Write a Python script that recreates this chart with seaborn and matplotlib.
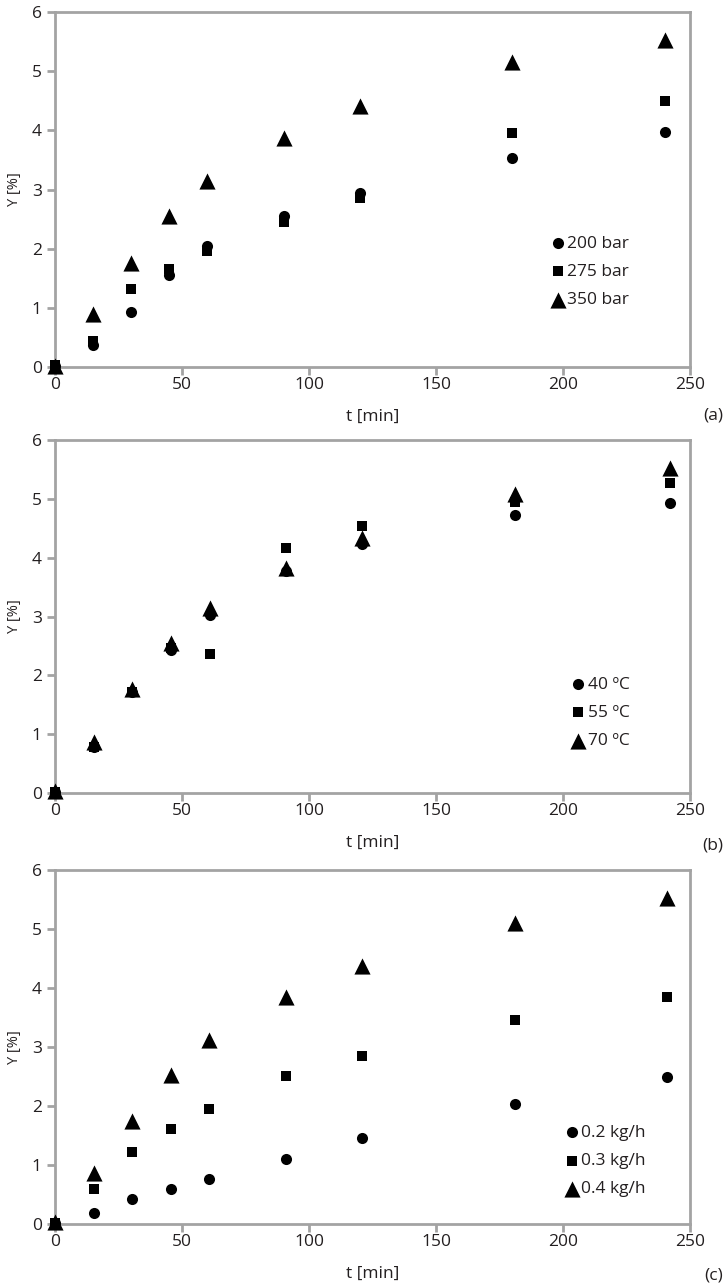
import matplotlib
matplotlib.use("Agg")
import matplotlib.pyplot as plt
import seaborn as sns
import pandas as pd

# Extraction yield vs time, three parameter studies
t_a = [0, 15, 30, 45, 60, 90, 120, 180, 240]
y_200bar = [0.02, 0.38, 0.93, 1.56, 2.04, 2.56, 2.94, 3.53, 3.97]
y_275bar = [0.03, 0.44, 1.31, 1.66, 1.96, 2.45, 2.86, 3.95, 4.50]
y_350bar = [0.02, 0.89, 1.76, 2.55, 3.14, 3.87, 4.41, 5.15, 5.53]
labels_a = ["200 bar", "275 bar", "350 bar"]

t_b = [0, 15.5, 30.5, 45.5, 61, 91, 121, 181, 242]
y_40C = [0.02, 0.79, 1.72, 2.43, 3.03, 3.78, 4.24, 4.72, 4.93]
y_55C = [0.02, 0.78, 1.72, 2.47, 2.36, 4.16, 4.54, 4.95, 5.27]
y_70C = [0.03, 0.87, 1.76, 2.55, 3.15, 3.82, 4.33, 5.08, 5.53]
labels_b = ["40 ºC", "55 ºC", "70 ºC"]

t_c = [0, 15.5, 30.5, 45.5, 60.5, 91, 121, 181, 241]
y_02 = [0.02, 0.19, 0.42, 0.60, 0.77, 1.10, 1.45, 2.03, 2.49]
y_03 = [0.02, 0.59, 1.22, 1.61, 1.95, 2.51, 2.85, 3.45, 3.85]
y_04 = [0.03, 0.86, 1.75, 2.53, 3.12, 3.84, 4.38, 5.10, 5.53]
labels_c = ["0.2 kg/h", "0.3 kg/h", "0.4 kg/h"]

markers = ["o", "s", "^"]
sizes = [64, 60, 135]

sns.set_style("white")
plt.rcParams["font.family"] = ["Open Sans", "DejaVu Sans"]

GRAY = "#a3a3a3"
TXT = "#231f20"
W, H = 726, 1288

fig = plt.figure(figsize=(W / 100, H / 100), dpi=100)


def px_axes(top, bottom, left=55, right=690):
    return fig.add_axes([left / W, 1 - bottom / H, (right - left) / W, (bottom - top) / H])


panels = [
    (12, 367, t_a, [y_200bar, y_275bar, y_350bar], labels_a, (0.781, 0.268), "(a)", 416),
    (440, 793, t_b, [y_40C, y_55C, y_70C], labels_b, (0.813, 0.227), "(b)", 845),
    (870, 1224, t_c, [y_02, y_03, y_04], labels_c, (0.803, 0.178), "(c)", 1275),
]

for top, bottom, t, series, labels, leg_pos, tag, tag_y in panels:
    ax = px_axes(top, bottom)
    for y, lab, m, s in zip(series, labels, markers, sizes):
        df = pd.DataFrame({"t": t, "Y": y})
        sns.scatterplot(data=df, x="t", y="Y", ax=ax, marker=m, s=s,
                        color="black", linewidth=0, label=lab, clip_on=False, zorder=3)
    ax.set_xlim(0, 250)
    ax.set_ylim(0, 6)
    ax.set_xticks([0, 50, 100, 150, 200, 250])
    ax.set_yticks([0, 1, 2, 3, 4, 5, 6])
    for sp in ax.spines.values():
        sp.set_color(GRAY)
        sp.set_linewidth(2.0)
    ax.tick_params(axis="both", which="major", direction="out", length=5.5, width=2.0,
                   color=GRAY, labelsize=12.5, labelcolor=TXT, bottom=True, left=True)
    ax.tick_params(axis="y", pad=4)
    ax.tick_params(axis="x", pad=2)
    ax.set_xlabel("t [min]", fontsize=12.5, color=TXT, labelpad=11)
    ax.set_ylabel("Y [%]", fontsize=10.5, color=TXT, labelpad=7)
    ax.legend(loc="center left", bbox_to_anchor=leg_pos, frameon=False, fontsize=12.5,
              handlelength=0.8, handletextpad=0.15, labelspacing=0.7, borderpad=0,
              borderaxespad=0, labelcolor=TXT)
    fig.text(723 / W, 1 - tag_y / H, tag, ha="right", va="center", fontsize=12.5, color=TXT)

fig.savefig("out.png", dpi=100, facecolor="white")
